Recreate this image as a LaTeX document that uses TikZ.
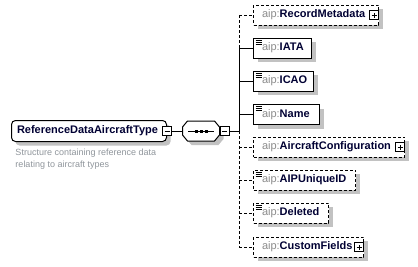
\documentclass[tikz,border=0pt]{standalone}
\usepackage{fontspec}
\setmainfont{Liberation Sans}
\usetikzlibrary{shadows}

\definecolor{aipgris}{HTML}{8C8C8C}
\definecolor{nombre}{HTML}{000033}
\definecolor{grissombra}{HTML}{C2C2C2}
\definecolor{grisdesc}{HTML}{8F959B}

\newcommand{\aip}[1]{\textcolor{aipgris}{aip:}\textcolor{nombre}{\bfseries #1}}

\begin{document}
\begin{tikzpicture}[x=1pt, y=-1pt, line width=1pt,
    sombra/.style={drop shadow={shadow xshift=4pt, shadow yshift=-4pt, fill=grissombra, opacity=1}},
    caja/.style={draw, fill=white, sombra, anchor=west, minimum height=20pt,
        inner xsep=8.5pt, inner ysep=0pt, align=left, text width=#1,
        font=\fontsize{11}{13}\selectfont},
    opcional/.style={dash pattern=on 3pt off 2pt},
    simple/.style={path picture={
        \foreach \d in {2,4,6}
            \draw[solid, line width=0.9pt] ([shift={(2pt,-\d pt)}]path picture bounding box.north west) -- ++(6pt,0pt);}},
    icono/.style={draw, solid, fill=white, minimum size=9pt, inner sep=0pt},
    menos/.style={icono, path picture={
        \draw[solid] ([xshift=2pt]path picture bounding box.west) -- ([xshift=-2pt]path picture bounding box.east);}},
    mas/.style={icono, path picture={
        \draw[solid] ([xshift=2pt]path picture bounding box.west) -- ([xshift=-2pt]path picture bounding box.east)
                     ([yshift=2pt]path picture bounding box.south) -- ([yshift=-2pt]path picture bounding box.north);}}]

    \useasboundingbox (0,0) rectangle (418,266);

    % Tipo complejo con su descripción
    \node[draw, fill=white, sombra, rounded corners=4pt, anchor=west, minimum height=21pt,
          inner xsep=5.5pt, inner ysep=0pt, text width=144pt, align=left,
          font=\fontsize{11}{13}\selectfont] (tipo) at (11,131)
          {\textcolor{nombre}{\bfseries ReferenceDataAircraftType}};
    \node[menos] (tipomenos) at (tipo.east) {};
    \node[anchor=north west, align=left, inner sep=0pt, text=grisdesc,
          font=\fontsize{9}{11.5}\selectfont] (descripcion) at (15,148.5)
          {Structure containing reference data\\relating to aircraft types};

    % Compositor de secuencia (rectángulo con esquinas cortadas)
    \node[minimum width=36pt, minimum height=19pt, inner sep=0pt] (secuencia) at (201,131) {};
    \draw[fill=white, sombra]
        ([xshift=5pt]secuencia.north west) -- ([xshift=-5pt]secuencia.north east)
        -- ([yshift=-6pt]secuencia.north east) -- ([yshift=6pt]secuencia.south east)
        -- ([xshift=-5pt]secuencia.south east) -- ([xshift=5pt]secuencia.south west)
        -- ([yshift=6pt]secuencia.south west) -- ([yshift=-6pt]secuencia.north west) -- cycle;
    \draw ([xshift=-13pt]secuencia.center) -- ([xshift=13pt]secuencia.center);
    \foreach \dx in {-5,0,5}
        \fill ([xshift=\dx pt]secuencia.center) +(-1.5,-1.5) rectangle +(1.5,1.5);
    \node[menos, anchor=west] (secmenos) at (secuencia.east) {};
    \coordinate (eje) at (239,131);

    \draw (tipomenos) -- (secuencia);
    \draw (secmenos.east) -- (eje);

    % Elementos hijos de la secuencia
    \node[caja=108pt, opcional] (recordmetadata) at (253,15) {\aip{RecordMetadata}};
    \node[caja=41pt, simple] (iata) at (253,48) {\aip{IATA}};
    \node[caja=43pt, simple] (icao) at (253,81) {\aip{ICAO}};
    \node[caja=49pt, simple] (name) at (253,114.5) {\aip{Name}};
    \node[caja=134pt, opcional] (aircraftconfiguration) at (253,147) {\aip{AircraftConfiguration}};
    \node[caja=85pt, opcional, simple] (aipuniqueid) at (253,180) {\aip{AIPUniqueID}};
    \node[caja=58pt, opcional, simple] (deleted) at (253,213) {\aip{Deleted}};
    \node[caja=93pt, opcional] (customfields) at (253,247) {\aip{CustomFields}};

    % Botones de expansión
    \node[mas, anchor=east] (recordmetadatamas) at (recordmetadata.east) {};
    \node[mas, anchor=east] (aircraftconfigurationmas) at (aircraftconfiguration.east) {};
    \node[mas, anchor=east] (customfieldsmas) at (customfields.east) {};

    % Eje vertical (discontinuo donde los hijos son opcionales)
    \draw[opcional] (eje |- recordmetadata) -- (eje |- iata);
    \draw (eje |- iata) -- (eje);
    \draw[opcional] (eje) -- (eje |- customfields);

    % Ramas hacia cada elemento
    \draw[opcional] (eje |- recordmetadata) -- (recordmetadata);
    \draw (eje |- iata) -- (iata);
    \draw (eje |- icao) -- (icao);
    \draw (eje |- name) -- (name);
    \draw[opcional] (eje |- aircraftconfiguration) -- (aircraftconfiguration);
    \draw[opcional] (eje |- aipuniqueid) -- (aipuniqueid);
    \draw[opcional] (eje |- deleted) -- (deleted);
    \draw[opcional] (eje |- customfields) -- (customfields);

\end{tikzpicture}
\end{document}
